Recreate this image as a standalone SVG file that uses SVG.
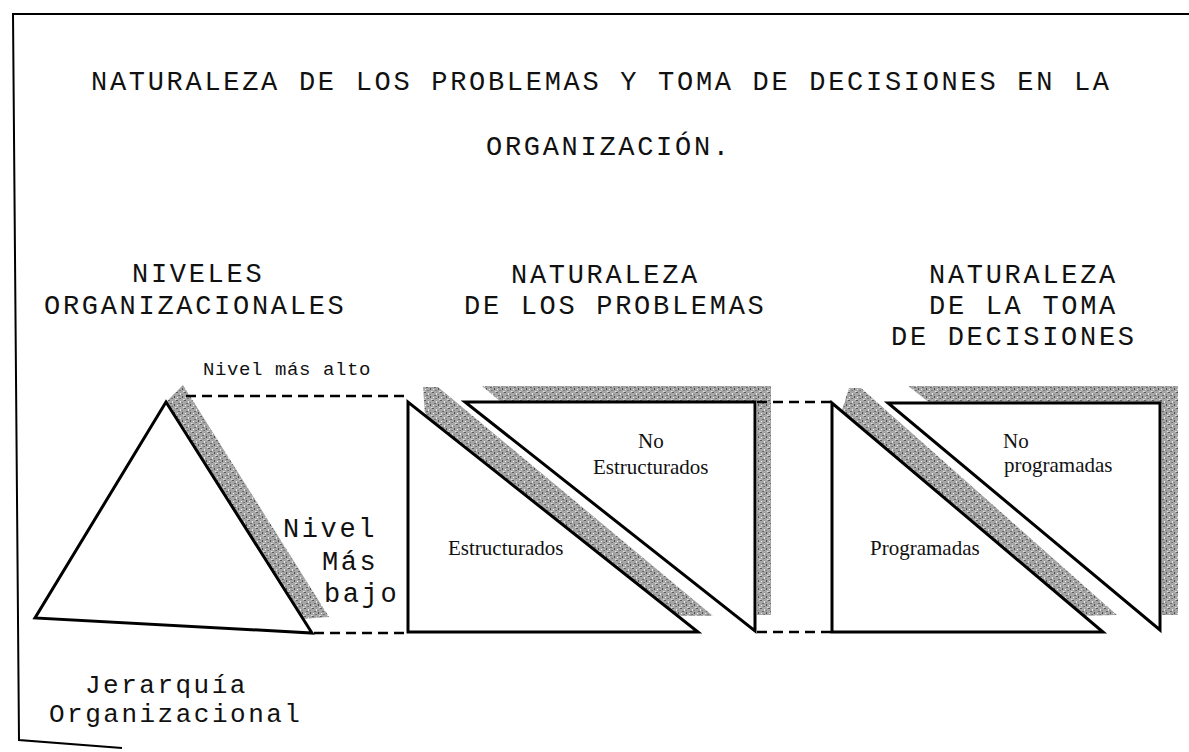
<svg xmlns="http://www.w3.org/2000/svg" width="1189" height="752" viewBox="0 0 1189 752">
<style>
.mono{font-family:"Liberation Mono","Courier New",monospace;fill:#111;}
.t{font-size:27px;letter-spacing:2.7px;}
.m{font-size:27px;letter-spacing:2.6px;}
.j{font-size:26px;letter-spacing:2.5px;}
.s{font-size:19px;letter-spacing:0.6px;}
.serif{font-family:"Liberation Serif","Times New Roman",serif;font-size:21px;fill:#111;}
.shape{fill:#fff;stroke:#000;stroke-width:3;stroke-linejoin:miter;}
.shade{fill:url(#speck);}
.dash{stroke:#000;stroke-width:2.5;stroke-dasharray:10 6;fill:none;}
.border{stroke:#000;stroke-width:2;fill:none;}
</style>
<defs>
<pattern id="speck" width="8" height="8" patternUnits="userSpaceOnUse">
<rect width="8" height="8" fill="#a6a6a6"/>
<rect x="0" y="0" width="2" height="1" fill="#5e5e5e"/>
<rect x="4" y="1" width="1" height="2" fill="#e4e4e4"/>
<rect x="2" y="3" width="2" height="1" fill="#6a6a6a"/>
<rect x="6" y="4" width="1" height="2" fill="#505050"/>
<rect x="1" y="5" width="1" height="1" fill="#eeeeee"/>
<rect x="3" y="6" width="2" height="1" fill="#7a7a7a"/>
<rect x="7" y="7" width="1" height="1" fill="#dcdcdc"/>
<rect x="5" y="2" width="2" height="1" fill="#8c8c8c"/>
<rect x="0" y="7" width="1" height="1" fill="#d0d0d0"/>
</pattern>
</defs>
<rect width="1189" height="752" fill="#fff"/>

<g id="border">
<polyline class="border" points="1189,14 13,14 19,740 122,748"/>
</g>

<g id="title">
<text class="mono t" x="91" y="90">NATURALEZA DE LOS PROBLEMAS Y TOMA DE DECISIONES EN LA</text>
<text class="mono t" x="486" y="155">ORGANIZACIÓN.</text>
</g>

<g id="headers">
<text class="mono t" x="132" y="282">NIVELES</text>
<text class="mono t" x="44" y="314">ORGANIZACIONALES</text>
<text class="mono t" x="511" y="283">NATURALEZA</text>
<text class="mono t" x="464" y="314">DE LOS PROBLEMAS</text>
<text class="mono t" x="929" y="283">NATURALEZA</text>
<text class="mono t" x="929" y="314">DE LA TOMA</text>
<text class="mono t" x="891" y="345">DE DECISIONES</text>
</g>

<g id="jerarquia">
<polygon class="shade" points="166,402 183,385 329,617 302,619"/>
<polygon class="shape" points="166,402 35,618 312,633"/>
<text class="mono s" x="203" y="375">Nivel más alto</text>
<text class="mono m" x="283" y="537">Nivel</text>
<text class="mono m" x="322" y="570">Más</text>
<text class="mono m" x="324" y="602">bajo</text>
<text class="mono j" x="85" y="693">Jerarquía</text>
<text class="mono j" x="49" y="722">Organizacional</text>
</g>

<g id="estructurados">
<polygon class="shade" points="423,387 438,387 713,616 678,616 425,415"/>
<polygon class="shape" points="408,402 408,632 698,632"/>
<text class="serif" x="448" y="555">Estructurados</text>
</g>

<g id="no-estructurados">
<polygon class="shade" points="482,386 771,386 771,615 757,615 757,402 501,402"/>
<polygon class="shape" points="465,402 755,402 755,631"/>
<text class="serif" x="638" y="448">No</text>
<text class="serif" x="593" y="474">Estructurados</text>
</g>

<g id="programadas">
<polygon class="shade" points="849,388 861,388 1117,615 1084,616 842,410"/>
<polygon class="shape" points="832,403 832,632 1103,632"/>
<text class="serif" x="870" y="555">Programadas</text>
</g>

<g id="no-programadas">
<polygon class="shade" points="908,386 1178,386 1178,615 1162,615 1162,403 930,403"/>
<polygon class="shape" points="888,403 1160,403 1160,630"/>
<text class="serif" x="1003" y="448">No</text>
<text class="serif" x="1004" y="472">programadas</text>
</g>

<g id="connectors">
<line class="dash" x1="186" y1="396" x2="407" y2="396"/>
<line class="dash" x1="314" y1="633" x2="407" y2="633"/>
<line class="dash" x1="757" y1="402" x2="832" y2="402"/>
<line class="dash" x1="757" y1="632" x2="832" y2="632"/>
</g>
</svg>
